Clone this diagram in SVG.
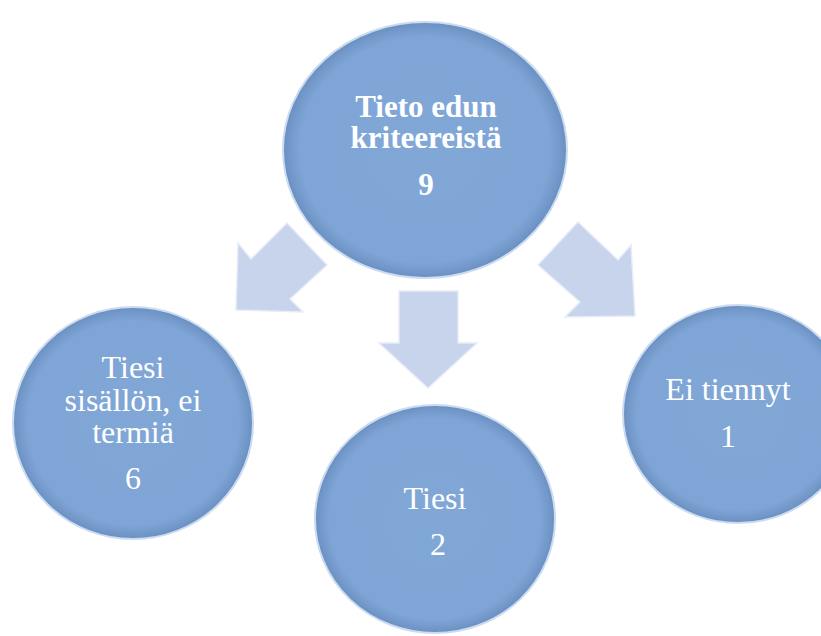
<svg xmlns="http://www.w3.org/2000/svg" width="821" height="636" viewBox="0 0 821 636">
<style>
.circ{fill:url(#cg);stroke:#c9dcf2;stroke-width:2}
.arr{fill:#c8d3ec;stroke:#e6ecf8;stroke-width:1.5;stroke-linejoin:miter}
.t{font-family:"Liberation Serif","Times New Roman",serif;fill:#ffffff;text-anchor:middle;font-size:32px}
.b{font-weight:bold;font-size:31px}
</style>
<defs>
<radialGradient id="cg" cx="0.5" cy="0.5" r="0.5">
<stop offset="0" stop-color="#81a7d7"/>
<stop offset="0.88" stop-color="#7fa5d6"/>
<stop offset="0.96" stop-color="#7297c9"/>
<stop offset="1" stop-color="#6a8ebe"/>
</radialGradient>
</defs>
<rect width="821" height="636" fill="#ffffff"/>
<g id="connectors">
<polygon class="arr" points="236,310 238,243 251,259 287,223 327,265 290,299 303,312"/>
<polygon class="arr" points="399,291 458,291 458,343 477,343 428,388 379,343 399,343"/>
<polygon class="arr" points="635,316 631,245 618,260 578,222 538,265 580,302 565,317"/>
</g>
<g id="node-top">
<ellipse class="circ" cx="425" cy="150" rx="142" ry="128"/>
<text class="t b" x="426" y="117">Tieto edun</text>
<text class="t b" x="426" y="148">kriteereistä</text>
<text class="t b" x="426" y="195">9</text>
</g>
<g id="node-left">
<ellipse class="circ" cx="133" cy="423" rx="120" ry="116"/>
<text class="t" x="133" y="378">Tiesi</text>
<text class="t" x="133" y="411">sisällön, ei</text>
<text class="t" x="133" y="443">termiä</text>
<text class="t" x="133" y="489">6</text>
</g>
<g id="node-middle">
<ellipse class="circ" cx="435" cy="519" rx="120" ry="114"/>
<text class="t" x="435" y="509">Tiesi</text>
<text class="t" x="438" y="555">2</text>
</g>
<g id="node-right">
<ellipse class="circ" cx="738" cy="414" rx="115" ry="109"/>
<text class="t" x="728" y="400">Ei tiennyt</text>
<text class="t" x="728" y="447">1</text>
</g>
</svg>
